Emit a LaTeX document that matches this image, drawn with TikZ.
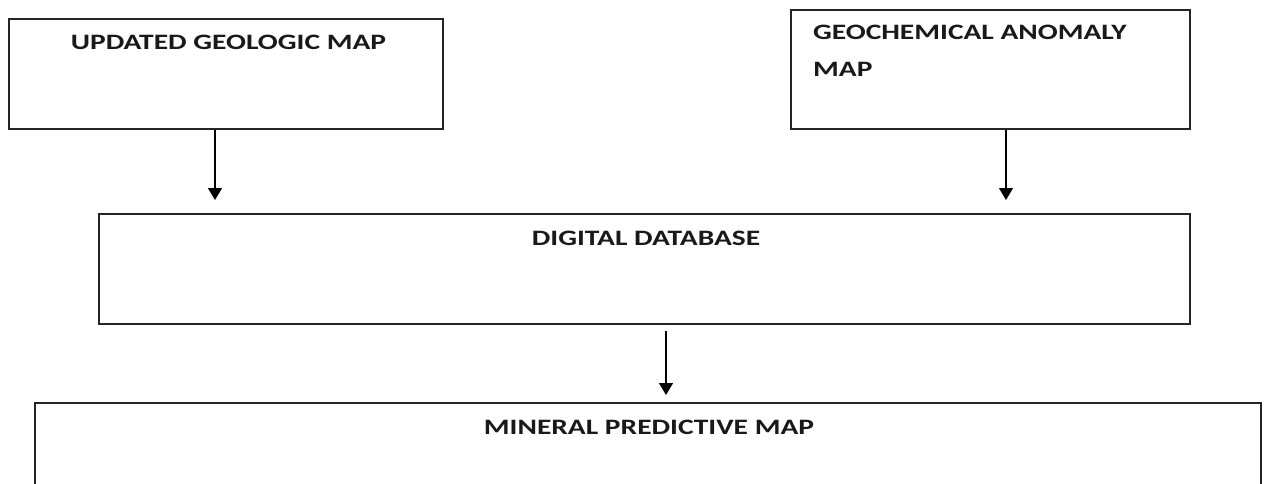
\documentclass[tikz,border=0pt]{standalone}
\usepackage{fontspec}
\setmainfont{Carlito}
\usetikzlibrary{arrows.meta}
\tikzset{
  boxshape/.style={draw=black!85, line width=1.3pt, rectangle, inner sep=0pt},
  lbl/.style={inner sep=0pt, font=\fontsize{22}{26}\selectfont\bfseries, text=black!90},
  arr/.style={draw=black, line width=1.2pt, -{Triangle[width=14pt,length=12pt]}}
}
\newcommand{\wide}[1]{\scalebox{1.34}[1]{#1}}
\begin{document}
\begin{tikzpicture}[x=1pt,y=-1pt]
\useasboundingbox (0,0) rectangle (1264,484);
\clip (0,0) rectangle (1264,484);
\fill[white] (0,0) rectangle (1264,484);
% boxes
\node[boxshape, minimum width=434pt, minimum height=110pt] (geo) at (226,74) {};
\node[boxshape, minimum width=399pt, minimum height=119pt] (chem) at (990.5,69.5) {};
\node[boxshape, minimum width=1091pt, minimum height=110pt] (db) at (644.5,269) {};
\node[boxshape, minimum width=1226pt, minimum height=160pt] (mineral) at (648,483) {};
% labels
\node[lbl, anchor=base] (t1) at (228.5,50) {\wide{UPDATED GEOLOGIC MAP}};
\node[lbl, anchor=base west] (t2) at (813,40) {\wide{GEOCHEMICAL ANOMALY}};
\node[lbl, anchor=base west] (t2b) at (813,77) {\wide{MAP}};
\node[lbl, anchor=base] (t3) at (646,245) {\wide{DIGITAL DATABASE}};
\node[lbl, anchor=base] (t4) at (649,434) {\wide{MINERAL PREDICTIVE MAP}};
% arrows
\coordinate (e1) at (215,200);
\coordinate (e2) at (1006,200);
\coordinate (s3) at (666,331);
\coordinate (e3) at (666,395);
\draw[arr] (e1 |- geo.south) -- (e1);
\draw[arr] (e2 |- chem.south) -- (e2);
\draw[arr] (s3) -- (e3);
\end{tikzpicture}
\end{document}
